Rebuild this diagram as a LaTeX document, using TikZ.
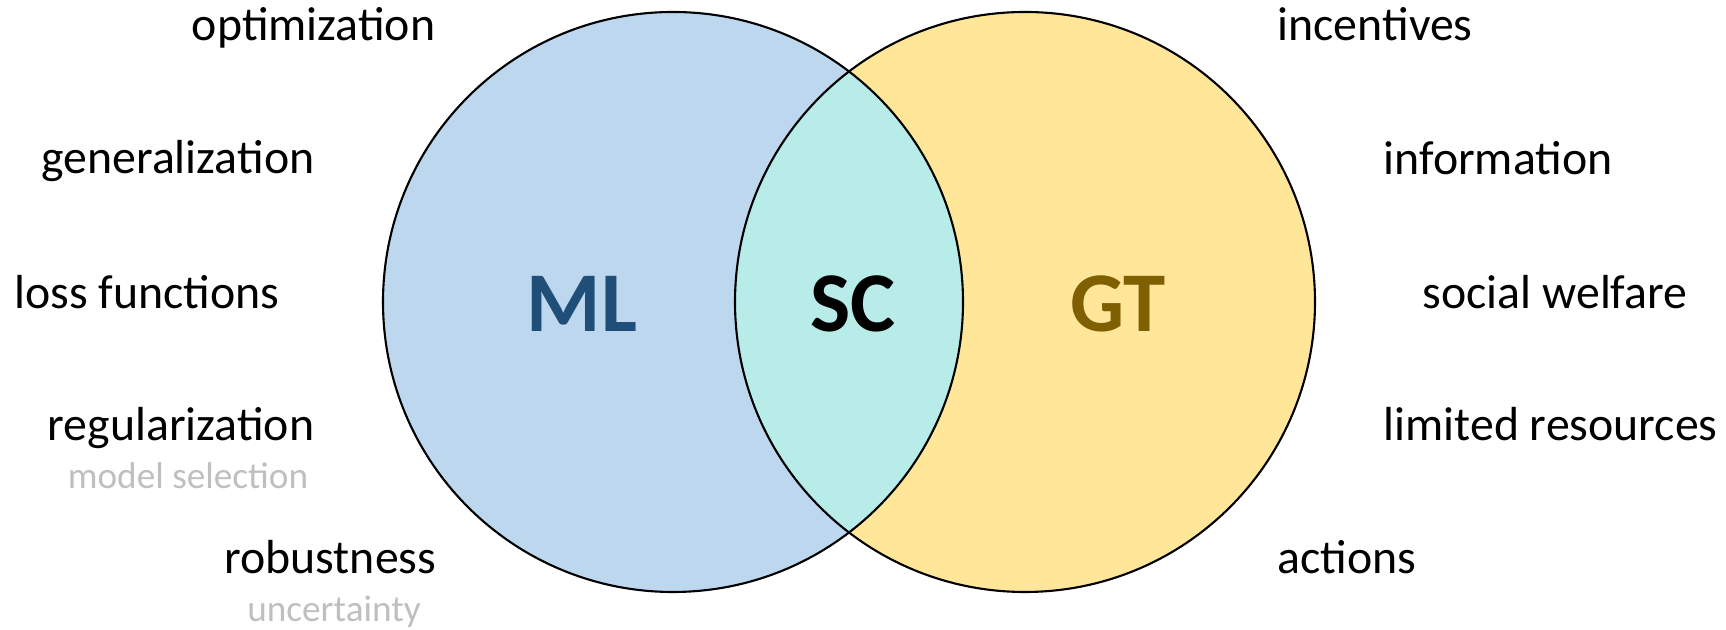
\documentclass[tikz,border=0pt]{standalone}
\usepackage{fontspec}
\setmainfont{Carlito}
\usepackage{xcolor}
\usetikzlibrary{positioning}
\definecolor{mlblue}{RGB}{189, 215, 238}
\definecolor{mldark}{RGB}{31, 78, 121}
\definecolor{gtgold}{RGB}{255, 230, 153}
\definecolor{gtdark}{RGB}{127, 96, 0}
\definecolor{scteal}{RGB}{183, 236, 232}
\definecolor{subgray}{RGB}{191, 191, 191}
\tikzset{
  topic/.style={inner sep=0, font=\fontsize{13.6}{16}\selectfont},
  subtopic/.style={inner sep=0, anchor=base, text=subgray, font=\fontsize{10.6}{12}\selectfont},
  field/.style={inner sep=0, font=\fontsize{24.2}{28}\selectfont\bfseries}
}

\begin{document}
\begin{tikzpicture}
    \useasboundingbox (0,0) rectangle (17.26,6.30);
    \coordinate (cml) at (6.73,3.28);
    \coordinate (cgt) at (10.25,3.28);
    \fill[mlblue] (cml) circle (2.90);
    \fill[gtgold] (cgt) circle (2.90);
    \begin{scope}
      \clip (cml) circle (2.90);
      \fill[scteal] (cgt) circle (2.90);
    \end{scope}
    \draw[line width=0.6pt] (cml) circle (2.90);
    \draw[line width=0.6pt] (cgt) circle (2.90);
    \node[field, text=mldark] (ml) at (5.82,3.26) {ML};
    \node[field] (sc) at (8.53,3.26) {SC};
    \node[field, text=gtdark] (gt) at (11.18,3.26) {GT};
    % left column
    \foreach \name/\txt/\x/\y in {opt/optimization/4.36/5.89, gen/generalization/3.15/4.56,
        loss/loss functions/2.80/3.21, reg/regularization/3.15/1.89, rob/robustness/4.37/0.56} {
      \node[topic, anchor=base east] (\name) at (\x,\y) {\txt};
    }
    \node[subtopic] (msel) at (1.88,1.41) {model selection};
    \node[subtopic] (unc) at (3.34,0.08) {uncertainty};
    % right column
    \foreach \name/\txt/\x/\y in {inc/incentives/12.77/5.89, info/information/13.83/4.55,
        welf/social welfare/14.22/3.21, lim/limited resources/13.83/1.89, act/actions/12.77/0.56} {
      \node[topic, anchor=base west] (\name) at (\x,\y) {\txt};
    }
\end{tikzpicture}
\end{document}
